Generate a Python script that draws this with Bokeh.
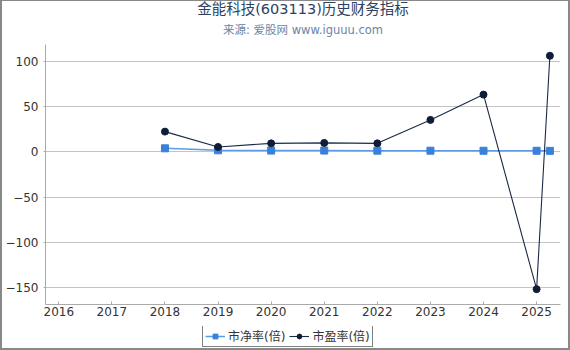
from bokeh.plotting import figure
from bokeh.layouts import column
from bokeh.models import Range1d, FixedTicker, Title, Legend, LegendItem, ColumnDataSource
from bokeh.embed import file_html
from bokeh.resources import INLINE

# Data
years_pb = [2018, 2019, 2020, 2021, 2022, 2023, 2024, 2025, 2025.25]
pb = [4.0, 1.8, 1.5, 1.5, 1.4, 1.4, 1.3, 1.3, 1.2]
years_pe = [2018, 2019, 2020, 2021, 2022, 2023, 2024, 2025, 2025.25]
pe = [22.5, 5.5, 9.5, 10.0, 9.5, 35.5, 63.5, -152.0, 106.5]
x_ticks = [2016, 2017, 2018, 2019, 2020, 2021, 2022, 2023, 2024, 2025]
y_ticks = [-150, -100, -50, 0, 50, 100]
title_text = "金能科技(603113)历史财务指标"
subtitle_text = "来源: 爱股网 www.iguuu.com"
label_pb = "市净率(倍)"
label_pe = "市盈率(倍)"

FONT = "'DejaVu Sans', 'Noto Sans CJK SC'"
PB_LINE, PB_MARK = "#5b9be8", "#3a80d8"
PE_LINE, PE_MARK = "#1a2a44", "#0f1d36"

p = figure(width=566, height=325, output_backend="svg", toolbar_location=None,
           x_range=Range1d(2015.75, 2025.45), y_range=Range1d(-169, 119),
           title=None, min_border_left=42, min_border_right=8, min_border_top=30,
           min_border_bottom=22)

p.add_layout(Title(text=subtitle_text, align="center", text_font=FONT, text_font_size="11.5px",
                   text_color="#6a84a8", text_font_style="normal", standoff=15), "above")
p.add_layout(Title(text=title_text, align="center", text_font=FONT, text_font_size="14.5px",
                   text_color="#2c4260", text_font_style="normal", standoff=-6), "above")

p.outline_line_color = None
p.xgrid.grid_line_color = None
p.ygrid.grid_line_color = "#c4c4c4"
p.ygrid.grid_line_width = 1

p.xaxis.ticker = FixedTicker(ticks=x_ticks)
p.yaxis.ticker = FixedTicker(ticks=y_ticks)
for ax in (p.xaxis, p.yaxis):
    ax.axis_line_color = "#aaaaaa"
    ax.major_tick_line_color = "#aaaaaa"
    ax.minor_tick_line_color = None
    ax.major_label_text_font = FONT
    ax.major_label_text_font_size = "12px"
    ax.major_label_text_color = "#333333"
p.xaxis.major_tick_in = 3
p.xaxis.major_tick_out = 0
p.yaxis.major_tick_in = 0
p.yaxis.major_tick_out = 2
p.xaxis.major_label_standoff = 2
p.yaxis.major_label_standoff = 5

src_pb = ColumnDataSource(dict(x=years_pb, y=pb))
src_pe = ColumnDataSource(dict(x=years_pe, y=pe))

p.line("x", "y", source=src_pb, line_color=PB_LINE, line_width=1.5)
p.scatter("x", "y", source=src_pb, marker="square", size=7, fill_color=PB_MARK, line_color=PB_MARK)
p.line("x", "y", source=src_pe, line_color=PE_LINE, line_width=1.1)
p.scatter("x", "y", source=src_pe, marker="circle", size=7, fill_color=PE_MARK, line_color=PE_MARK)

# Legend strip below the chart
lg = figure(width=566, height=22, output_backend="svg", toolbar_location=None,
            x_range=Range1d(0, 1), y_range=Range1d(0, 1), title=None,
            min_border=0, min_border_left=0, min_border_right=0, min_border_top=0,
            min_border_bottom=0)
lg.axis.visible = False
lg.grid.visible = False
lg.outline_line_color = None
e = ColumnDataSource(dict(x=[-10], y=[-10]))
a1 = lg.line("x", "y", source=e, line_color=PB_LINE, line_width=1.5)
b1 = lg.scatter("x", "y", source=e, marker="square", size=7, fill_color=PB_MARK, line_color=PB_MARK)
a2 = lg.line("x", "y", source=e, line_color=PE_LINE, line_width=1.1)
b2 = lg.scatter("x", "y", source=e, marker="circle", size=7, fill_color=PE_MARK, line_color=PE_MARK)

legend = Legend(items=[LegendItem(label=label_pb, renderers=[a1, b1]),
                       LegendItem(label=label_pe, renderers=[a2, b2])],
                orientation="horizontal", location=(157, 1),
                label_text_font=FONT, label_text_font_size="12px", label_text_color="#333333",
                border_line_color="black", border_line_width=1, background_fill_alpha=0,
                padding=2, spacing=4, margin=0, glyph_width=20, glyph_height=12,
                label_standoff=3, label_height=12)
lg.add_layout(legend, "center")

layout = column(p, lg, spacing=0)
layout.styles = {"border-left": "2px solid #888888", "border-right": "2px solid #888888",
                 "border-top": "1px solid #888888", "border-bottom": "2px solid #888888"}
open("out.html", "w").write(file_html(layout, INLINE))
